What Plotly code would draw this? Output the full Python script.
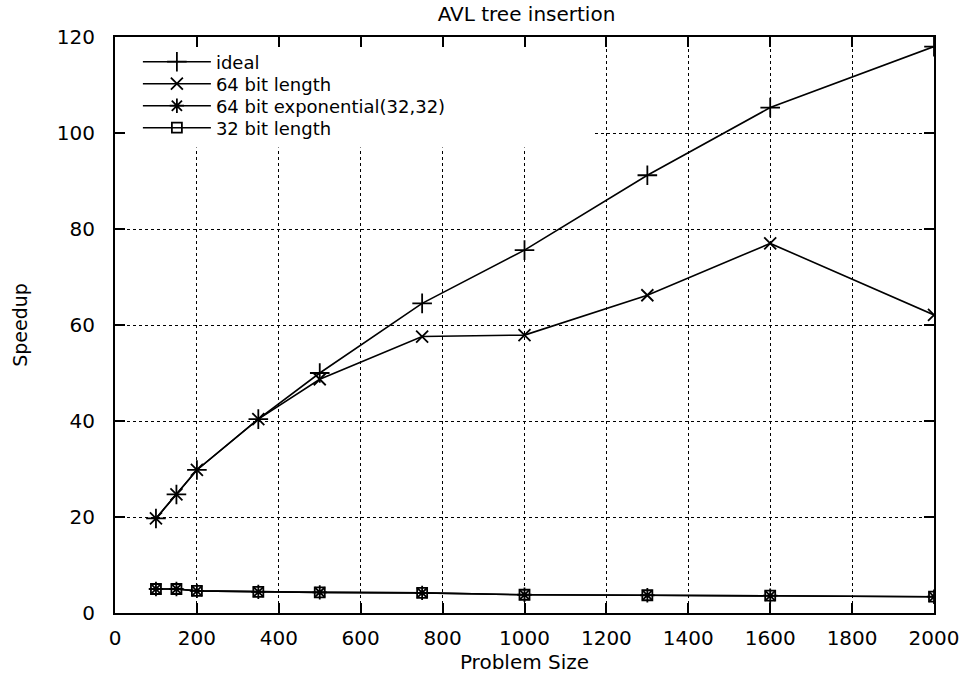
import plotly.graph_objects as go

problem_size = [100, 150, 200, 350, 500, 750, 1000, 1300, 1600, 2000]
ideal = [19.7, 24.7, 29.8, 40.4, 50.0, 64.5, 75.6, 91.2, 105.3, 118.0]
bit64_length = [19.7, 24.7, 29.8, 40.4, 48.7, 57.6, 57.9, 66.2, 77.0, 62.1]
bit64_exp = [5.0, 5.0, 4.6, 4.4, 4.3, 4.2, 3.8, 3.7, 3.6, 3.4]
bit32_length = [5.0, 5.0, 4.6, 4.4, 4.3, 4.2, 3.8, 3.7, 3.6, 3.4]

x_ticks = [0, 200, 400, 600, 800, 1000, 1200, 1400, 1600, 1800, 2000]
y_ticks = [0, 20, 40, 60, 80, 100, 120]

FONT = "DejaVu Sans, sans-serif"
line = dict(color="black", width=1.6)

# plot area in pixels
L, R, T, B = 115, 938, 37, 613

fig = go.Figure()
series = [
    ("ideal", ideal, "cross-thin-open", 14, "legend"),
    ("64 bit length", bit64_length, "x-thin-open", 12, "legend2"),
    ("64 bit exponential(32,32)", bit64_exp, "asterisk-open", 12, "legend3"),
    ("32 bit length", bit32_length, "square-open", 10, "legend4"),
]
for name, ys, sym, sz, lg in series:
    fig.add_trace(go.Scatter(
        x=problem_size, y=ys, name=name, mode="lines+markers",
        line=line, legend=lg,
        marker=dict(symbol=sym, size=sz, color="black",
                    line=dict(color="black", width=1.8)),
    ))

axis_common = dict(
    showline=True, linecolor="black", linewidth=2, mirror="ticks",
    ticks="inside", ticklen=10, tickwidth=2, tickcolor="black",
    showgrid=True, gridcolor="black", gridwidth=1, griddash="dot",
    zeroline=False, tickfont=dict(family=FONT, size=20, color="black"),
)

row_px = [62, 84, 106, 128]
legend_base = dict(x=(138 - L) / (R - L), xanchor="left", yanchor="middle",
                   bgcolor="rgba(0,0,0,0)", borderwidth=0,
                   font=dict(family=FONT, size=18, color="black"),
                   itemwidth=68)
legends = {}
for i, key in enumerate(["legend", "legend2", "legend3", "legend4"]):
    d = dict(legend_base)
    d["y"] = (B - row_px[i]) / (B - T)
    legends[key] = d

fig.update_layout(
    width=971, height=682,
    margin=dict(l=L, r=971 - R, t=T, b=682 - B),
    paper_bgcolor="white", plot_bgcolor="white",
    font=dict(family=FONT, color="black"),
    title=dict(text="AVL tree insertion", x=(L + R) / 2 / 971, xanchor="center",
               y=1 - 14 / 682, yanchor="middle",
               font=dict(family=FONT, size=20, color="black")),
    xaxis=dict(range=[0, 2000], tickvals=x_ticks,
               title=dict(text="Problem Size", font=dict(family=FONT, size=20), standoff=2),
               ticklabelstandoff=6, **axis_common),
    yaxis=dict(range=[0, 120], tickvals=y_ticks,
               title=dict(text="Speedup", font=dict(family=FONT, size=19), standoff=24),
               ticklabelstandoff=14, **axis_common),
    showlegend=True,
    shapes=[dict(type="rect", xref="x", yref="y", x0=0, x1=1170, y0=97, y1=120,
                 fillcolor="white", line=dict(width=0), layer="between")],
    **legends,
)

fig.write_html("out.html")
